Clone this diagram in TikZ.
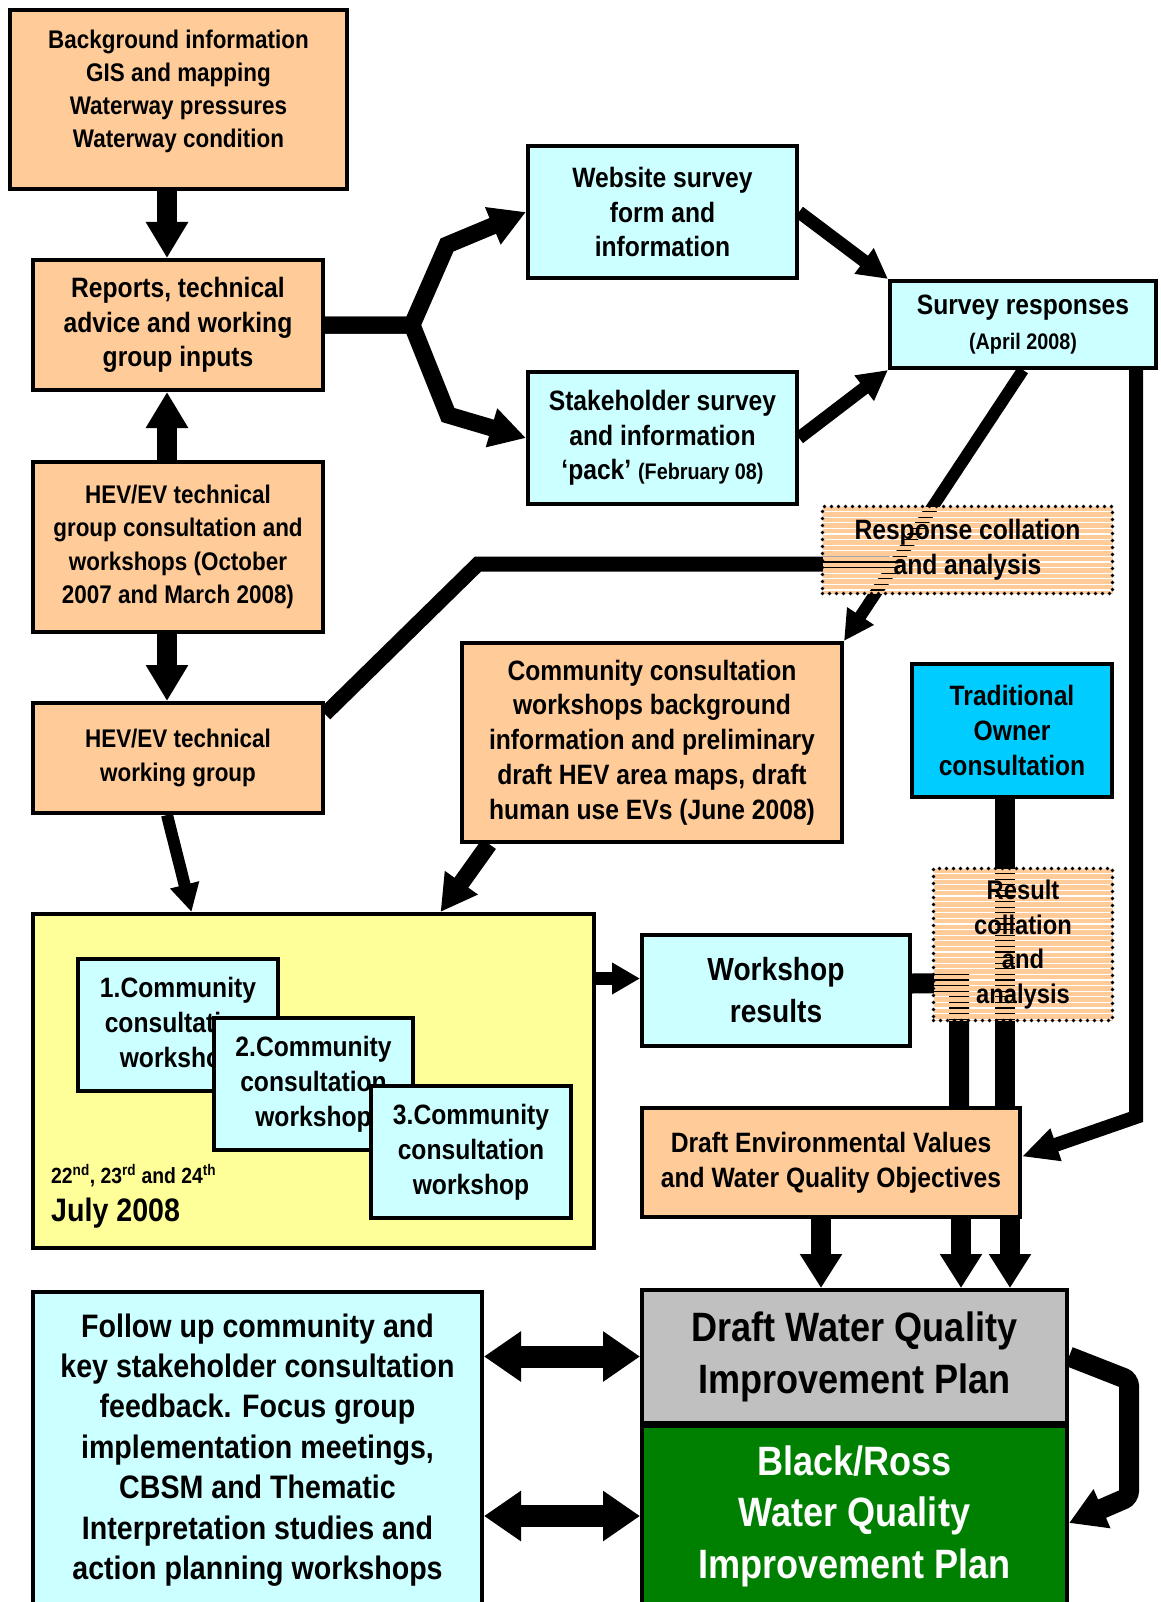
\documentclass[tikz,border=0pt]{standalone}
\usepackage{fontspec}
\setmainfont{Liberation Sans}[FakeStretch=0.88]
\usepackage{tikz}
\usetikzlibrary{arrows.meta, positioning}

\definecolor{peach}{HTML}{FFCC99}
\definecolor{aqua}{HTML}{CCFFFF}
\definecolor{sky}{HTML}{00CCFF}
\definecolor{lemon}{HTML}{FFFF99}
\definecolor{silver}{HTML}{C0C0C0}
\definecolor{leaf}{HTML}{008000}

\pgfdeclarelayer{links}
\pgfsetlayers{links,main}

\newcommand{\fsz}[2]{\fontsize{#1}{#2}\selectfont}

\begin{document}
\begin{tikzpicture}[
  x=1pt, y=-1pt,
  box/.style={draw, line width=4pt, align=center, inner sep=0pt, font=\bfseries\fsz{28}{34.75}},
  peachbox/.style={box, fill=peach},
  aquabox/.style={box, fill=aqua},
  dotbox/.style={draw, line width=3.6pt, dash pattern=on 0pt off 7pt, line cap=round,
    align=center, inner sep=0pt, font=\bfseries\fsz{28}{34.75},
    path picture={\foreach \k in {0,...,32}
      \fill[peach] ([yshift=-\k*5.6pt]path picture bounding box.north west) rectangle ++(320,4.4);}},
  fat/.style={line width=20pt, -{Triangle[width=40pt,length=36pt]}},
  fork/.style={line width=17pt, -{Triangle[width=38pt,length=36pt]}},
  arr/.style={line width=13pt, -{Triangle[width=30pt,length=30pt]}},
  bar/.style={line width=20pt},
  link/.style={line width=15pt},
  twoway/.style={line width=22pt, {Triangle[width=48pt,length=37pt]}-{Triangle[width=48pt,length=37pt]}}
]
\useasboundingbox (0,0) rectangle (1160,1602);

% Left column: technical inputs
\node[peachbox, minimum width=337pt, minimum height=179pt, font=\bfseries\fsz{25.5}{33}] (bginfo) at (178.5,99.5)
  {Background information\\GIS and mapping\\Waterway pressures\\Waterway condition\\[-12pt]\mbox{}};
\node[peachbox, minimum width=290pt, minimum height=130pt] (reports) at (178,325)
  {Reports, technical\\advice and working\\group inputs};
\node[peachbox, minimum width=290pt, minimum height=170pt, font=\bfseries\fsz{25.5}{33.2}] (hevgroup) at (178,547)
  {HEV/EV technical\\group consultation and\\workshops (October\\2007 and March 2008)};
\node[peachbox, minimum width=290pt, minimum height=110pt, font=\bfseries\fsz{25.5}{33.5}] (hevwg) at (178,758)
  {HEV/EV technical\\working group};

% Surveys
\node[aquabox, minimum width=269pt, minimum height=132pt] (website) at (662.5,212)
  {Website survey\\form and\\information};
\node[aquabox, minimum width=269pt, minimum height=132pt] (stakeholder) at (662.5,438)
  {Stakeholder survey\\and information\\‘pack’ {\fsz{22.5}{34.75}(February 08)}};
\node[aquabox, minimum width=266pt, minimum height=87pt] (responses) at (1023,324.5)
  {Survey responses\\{\fsz{22.5}{34}(April 2008)}};
\node[dotbox, minimum width=290pt, minimum height=87pt] (collation) at (967.5,550)
  {Response collation\\and analysis};

% Community workshops
\node[peachbox, minimum width=380pt, minimum height=199pt] (community) at (652,742.5)
  {Community consultation\\workshops background\\information and preliminary\\draft HEV area maps, draft\\human use EVs (June 2008)};
\node[box, fill=sky, minimum width=200pt, minimum height=133pt] (traditional) at (1012,730.5)
  {Traditional\\Owner\\consultation};
\node[box, fill=lemon, minimum width=561pt, minimum height=334pt] (july) at (313.5,1081) {};
\node[aquabox, minimum width=200pt, minimum height=132pt] (ws1) at (178,1025)
  {1.Community\\consultation\\workshop};
\node[aquabox, minimum width=199pt, minimum height=132pt] (ws2) at (313.5,1084)
  {2.Community\\consultation\\workshop};
\node[aquabox, minimum width=200pt, minimum height=132pt] (ws3) at (471,1152)
  {3.Community\\consultation\\workshop};
\node[font=\bfseries\fsz{22}{26}, anchor=base west, inner sep=0pt] (days) at (51,1183)
  {22\textsuperscript{nd}, 23\textsuperscript{rd} and 24\textsuperscript{th}};
\node[font=\bfseries\fsz{32.5}{38}, anchor=base west, inner sep=0pt] (month) at (51,1221)
  {July 2008};
\node[aquabox, minimum width=268pt, minimum height=111pt, font=\bfseries\fsz{32}{42}] (results) at (776,990.5)
  {Workshop\\results};
\node[dotbox, minimum width=179pt, minimum height=152pt, font=\bfseries\fsz{27}{34.75}] (resultcoll) at (1023,944.5)
  {Result\\collation\\and\\analysis};

% Outputs
\node[peachbox, minimum width=378pt, minimum height=109pt] (draftev) at (831,1162.5)
  {Draft Environmental Values\\and Water Quality Objectives};
\node[box, fill=silver, minimum width=425pt, minimum height=133pt, font=\bfseries\fsz{41}{52}] (draftplan) at (854.5,1356.5)
  {Draft Water Quality\\Improvement Plan};
\node[box, fill=leaf, text=white, minimum width=425pt, minimum height=180pt, font=\bfseries\fsz{41}{51.5}] (blackross) at (854.5,1516)
  {Black/Ross\\Water Quality\\Improvement Plan};
\node[aquabox, minimum width=449pt, minimum height=316pt, font=\bfseries\fsz{32.5}{40.4}] (followup) at (257.5,1450)
  {Follow up community and\\key stakeholder consultation\\feedback. Focus group\\implementation meetings,\\CBSM and Thematic\\Interpretation studies and\\action planning workshops};

% Bend points
\coordinate (arrx) at (167,0);
\coordinate (split) at (412,325);
\coordinate (cbend) at (478,564);
\coordinate (rbend) at (1136,1117);
\coordinate (wsbend) at (959,983);
\coordinate (tdrop) at ([xshift=-7pt]traditional.south);
\coordinate (resin) at ([yshift=12pt]results.west);

% Arrows
\begin{pgfonlayer}{links}
\draw[fat] (bginfo.south -| arrx) -- (reports.north -| arrx);
\draw[fat] (hevgroup.north -| arrx) -- (reports.south -| arrx);
\draw[fat] (hevgroup.south -| arrx) -- (hevwg.north -| arrx);
\draw[fork] (reports.east) -- (split) -- (447,245) -- (website.west);
\draw[fork] (reports.east) -- (split) -- (448,415) -- (stakeholder.west);
\draw[arr] (website.east) -- (responses.north west);
\draw[arr] (stakeholder.east) -- (responses.south west);
\draw[arr, line width=12pt] (responses.south) -- (community.north east);
\draw[arr, line width=14pt, -{Triangle[width=32pt,length=36pt]}] (responses.south -| rbend) -- (rbend) -- ([yshift=6pt]draftev.east);
\draw[link] ([xshift=-78pt,yshift=-14pt]collation.center) -- (cbend) -- ([yshift=44pt]hevwg.east);
\draw[arr, line width=12pt, -{Triangle[width=28pt,length=28pt]}] (hevwg.south -| arrx) -- ([xshift=-122pt]july.north);
\draw[fork] ([xshift=-163pt]community.south) -- ([xshift=127pt]july.north);
\draw[arr, -{Triangle[width=30pt,length=28pt]}] (july.east |- resin) -- (resin);
\draw[bar] ([yshift=7pt]results.east) -- (wsbend) -- (wsbend |- draftev.north);
\draw[bar] (tdrop) -- (tdrop |- draftev.north);
\foreach \dx in {-10,130,179}
  \draw[fat, -{Triangle[width=40pt,length=34pt]}] ([xshift=\dx pt]draftev.south) -- ([xshift=\dx pt]draftev.south |- draftplan.north);
\draw[fat, rounded corners=6pt] (draftplan.east) -- (1129,1380) -- (1129,1497) -- ([yshift=-7pt]blackross.east);
\draw[twoway] (followup.east |- draftplan.west) -- (draftplan.west);
\draw[twoway] (followup.east |- blackross.west) -- (blackross.west);
\end{pgfonlayer}

\end{tikzpicture}
\end{document}
